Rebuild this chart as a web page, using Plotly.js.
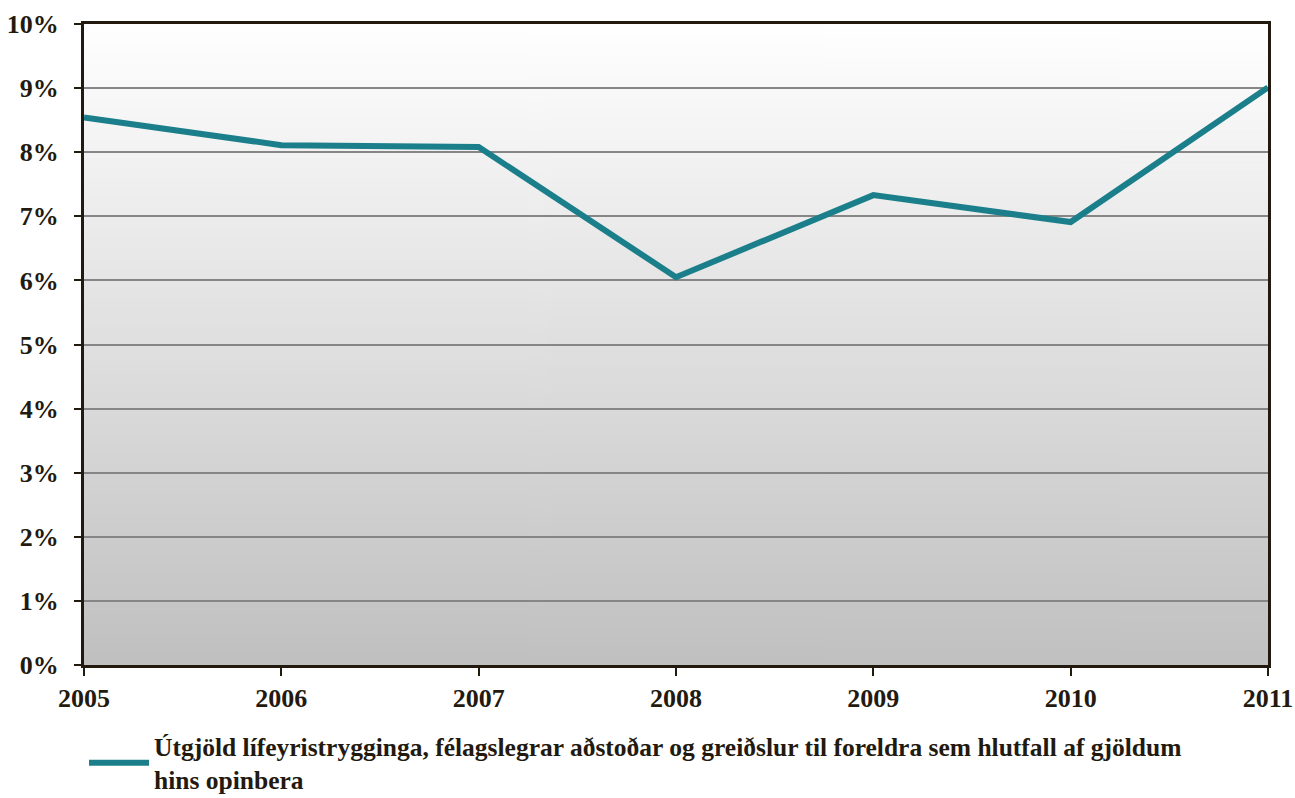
<!DOCTYPE html>
<html>
<head>
<meta charset="utf-8">
<script src="https://cdn.plot.ly/plotly-3.0.1.min.js"></script>
<style>html,body{margin:0;padding:0;background:#fff;}#chart{width:1295px;height:798px;}</style>
</head>
<body>
<div id="chart"></div>
<script>
const years = [2005, 2006, 2007, 2008, 2009, 2010, 2011];
const shareValues = [8.54, 8.11, 8.08, 6.05, 7.33, 6.91, 9.01];
const yTickVals = [0, 1, 2, 3, 4, 5, 6, 7, 8, 9, 10];
const yTickText = ['0%', '1%', '2%', '3%', '4%', '5%', '6%', '7%', '8%', '9%', '10%'];
const seriesName = 'Útgjöld lífeyristrygginga, félagslegrar aðstoðar og greiðslur til foreldra sem hlutfall af gjöldum<br>hins opinbera';

// vertical gradient background image
const cv = document.createElement('canvas');
cv.width = 4; cv.height = 256;
const ctx = cv.getContext('2d');
const g = ctx.createLinearGradient(0, 0, 0, 256);
g.addColorStop(0, '#ffffff');
g.addColorStop(1, '#c0c0c0');
ctx.fillStyle = g;
ctx.fillRect(0, 0, 4, 256);
const bg = cv.toDataURL();

const dark = '#231a0f';
const fam = 'Liberation Serif, Times New Roman, serif';
const font = {family: fam, size: 26, color: dark, weight: 'bold'};

Plotly.newPlot('chart', [{
  x: years, y: shareValues, type: 'scatter', mode: 'lines', name: seriesName,
  line: {color: '#1b7f8b', width: 6}
}], {
  width: 1295, height: 798,
  margin: {l: 84, r: 27, t: 24, b: 133},
  paper_bgcolor: '#ffffff', plot_bgcolor: 'rgba(0,0,0,0)',
  font: font,
  showlegend: true,
  legend: {x: 0.0, xanchor: 'left', yref: 'container', y: 0.094, yanchor: 'top', orientation: 'h',
           font: {family: fam, size: 25.5, color: dark, weight: 'bold'}, itemwidth: 60, bgcolor: 'rgba(0,0,0,0)'},
  images: [{source: bg, xref: 'paper', yref: 'paper', x: 0, y: 1, sizex: 1, sizey: 1,
            sizing: 'stretch', layer: 'below', xanchor: 'left', yanchor: 'top'}],
  xaxis: {range: [2005, 2011], tickvals: years, ticktext: years.map(String), showgrid: false, zeroline: false,
          showline: true, linecolor: dark, linewidth: 3, mirror: true, ticks: 'outside', ticklen: 8, tickwidth: 2, tickcolor: dark,
          ticklabelstandoff: 0, tickfont: font},
  yaxis: {range: [0, 10], tickvals: yTickVals, ticktext: yTickText, showgrid: true, gridcolor: '#868686', gridwidth: 2, zeroline: false,
          showline: true, linecolor: dark, linewidth: 3, mirror: true, ticks: 'outside', ticklen: 7, tickwidth: 2, tickcolor: dark,
          ticklabelstandoff: 10, tickfont: font}
}, {displayModeBar: false});
</script>
</body>
</html>
